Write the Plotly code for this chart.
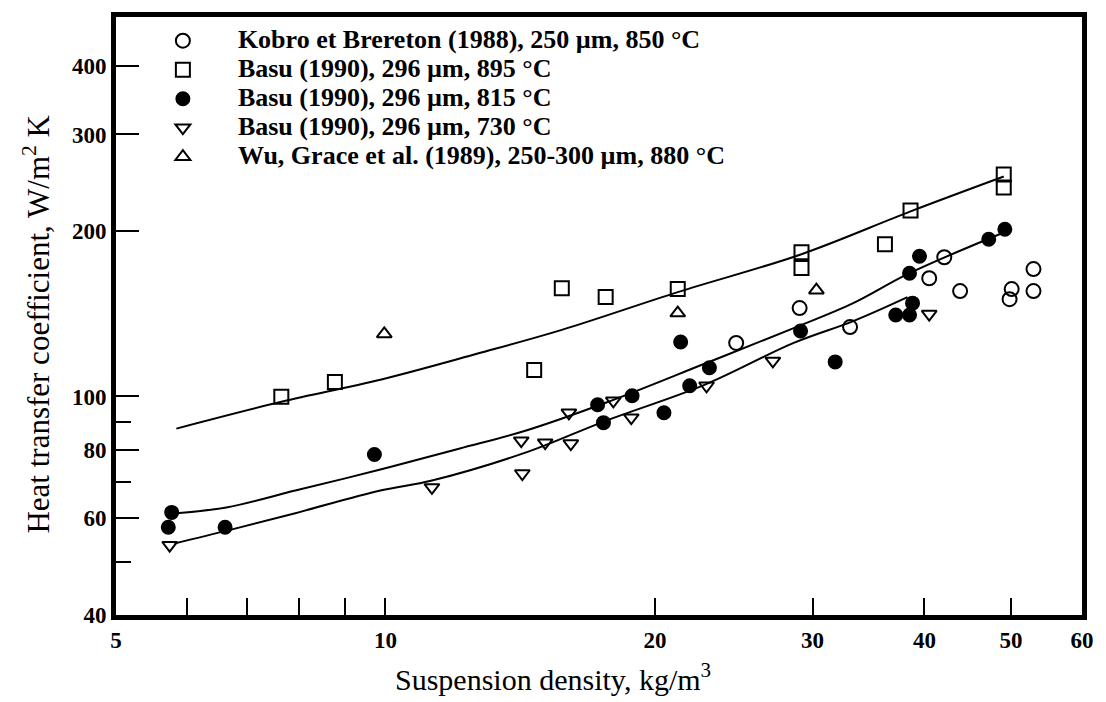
import math
import plotly.graph_objects as go

# ---- data ----
kobro_x = [24.65, 29.02, 33.04, 42.1, 40.5, 43.85, 52.96, 50.07, 52.96, 49.8]
kobro_y = [125.2, 144.9, 133.8, 179.3, 164.2, 155.6, 170.6, 156.9, 155.6, 150.4]

b895_x = [7.65, 8.78, 14.66, 15.74, 17.62, 21.21, 29.16, 29.16, 36.14, 38.6, 49.06, 49.06]
b895_y = [99.9, 106.3, 111.8, 157.5, 151.7, 156.9, 183.1, 171.3, 189.3, 218.2, 253.7, 240.3]

b815_x = [5.77, 5.72, 6.62, 9.72, 17.26, 17.52, 18.86, 20.47, 21.37, 21.87, 23.01,
          29.09, 31.8, 37.16, 38.5, 38.8, 38.5, 39.5, 47.2, 49.2]
b815_y = [61.5, 57.8, 57.8, 78.4, 96.6, 89.6, 100.3, 93.4, 125.7, 104.6, 112.8,
          131.6, 115.6, 140.7, 140.7, 147.9, 167.7, 180.1, 193.3, 201.6]

b730_x = [5.74, 11.27, 14.18, 14.22, 15.08, 16.11, 16.03, 17.97, 18.82, 22.84, 27.09, 40.5]
b730_y = [53.6, 68.3, 83.1, 72.4, 82.4, 82.1, 93.4, 98.2, 91.5, 104.6, 116.1, 141.3]

wu_x = [9.97, 21.21, 30.3]
wu_y = [130.0, 141.9, 156.2]

# fitted curves
fit895_x = [5.84, 7.65, 9.87, 12.65, 15.74, 21.21, 29.16, 38.6, 49.06]
fit895_y = [87.4, 97.8, 107.3, 119.6, 132.2, 154.9, 181.6, 217.3, 251.5]

fit815_x = [5.84, 6.64, 7.93, 9.87, 12.11, 14.36, 17.62, 22.72, 28.58, 33.31, 38.5, 50.07]
fit815_y = [61.3, 62.8, 67.4, 73.6, 80.4, 86.7, 97.4, 114.7, 133.2, 147.9, 167.7, 201.6]

fit730_x = [5.81, 6.69, 7.93, 9.87, 11.27, 14.36, 17.62, 22.72, 28.58, 33.31, 38.3]
fit730_y = [54.0, 57.1, 61.3, 67.4, 70.3, 79.1, 90.3, 105.0, 125.2, 137.2, 151.7]

legend_names = [
    "Kobro et Brereton (1988), 250 µm, 850 °C",
    "Basu (1990), 296 µm, 895 °C",
    "Basu (1990), 296 µm, 815 °C",
    "Basu (1990), 296 µm, 730 °C",
    "Wu, Grace et al. (1989), 250-300 µm, 880 °C",
]

x_tickvals = [5, 6, 7, 8, 9, 10, 20, 30, 40, 50, 60]
x_ticktext = ["5", "", "", "", "", "10", "20", "30", "40", "50", "60"]
y_tickvals = [40, 60, 80, 100, 200, 300, 400]
y_ticktext = ["40", "60", "80", "100", "200", "300", "400"]
y_minor = [50, 70, 90]

FONT = "Liberation Serif"

fig = go.Figure()

for fx, fy in [(fit895_x, fit895_y), (fit815_x, fit815_y), (fit730_x, fit730_y)]:
    fig.add_trace(go.Scatter(x=fx, y=fy, mode="lines", showlegend=False,
                             line=dict(color="black", width=2, shape="spline", smoothing=1.0),
                             hoverinfo="skip"))

series = [
    (kobro_x, kobro_y, "circle-open", 14),
    (b895_x, b895_y, "square-open", 14),
    (b815_x, b815_y, "circle", 13),
    (b730_x, b730_y, "triangle-down-open", 13),
    (wu_x, wu_y, "triangle-up-open", 13),
]
for (sx, sy, sym, sz), name in zip(series, legend_names):
    fig.add_trace(go.Scatter(x=sx, y=sy, mode="markers",
                             name='<span style="font-size:26px">' + name + "</span>",
                             marker=dict(symbol=sym, size=sz, color="black",
                                         line=dict(color="black", width=2))))

fig.update_layout(
    width=1106, height=702,
    margin=dict(l=116, r=15, t=13, b=87),
    paper_bgcolor="white", plot_bgcolor="white",
    font=dict(family=FONT, color="black", size=20, weight="bold"),
    legend=dict(x=0.0123, y=0.993, xanchor="left", yanchor="top", itemwidth=100,
                bgcolor="rgba(0,0,0,0)", font=dict(family=FONT, size=20, weight="bold"),
                tracegroupgap=0),
    xaxis=dict(type="log", range=[math.log10(5), math.log10(60)],
               showline=True, linewidth=5, linecolor="black", mirror=True,
               showgrid=False, zeroline=False,
               ticks="inside", ticklen=17, tickwidth=2, tickcolor="black",
               tickmode="array", tickvals=x_tickvals, ticktext=x_ticktext,
               tickfont=dict(family=FONT, size=23, weight="bold")),
    yaxis=dict(type="log", range=[math.log10(40), math.log10(491)],
               showline=True, linewidth=5, linecolor="black", mirror=True,
               showgrid=False, zeroline=False,
               ticks="inside", ticklen=23, tickwidth=2, tickcolor="black",
               tickmode="array", tickvals=y_tickvals, ticktext=y_ticktext,
               tickfont=dict(family=FONT, size=23, weight="bold"),
               minor=dict(tickmode="array", tickvals=y_minor, ticks="inside",
                          ticklen=15, tickwidth=2, tickcolor="black", showgrid=False)),
    annotations=[
        dict(text="Heat transfer coefficient, W/m<sup>2</sup> K", xref="paper", yref="paper",
             x=-0.082, y=0.487, xanchor="center", yanchor="middle",
             textangle=-90, showarrow=False,
             font=dict(family=FONT, size=31, weight="normal")),
        dict(text="Suspension density, kg/m<sup>3</sup>", xref="paper", yref="paper",
             x=0.452, y=-0.104, xanchor="center", yanchor="middle", showarrow=False,
             font=dict(family=FONT, size=30, weight="normal")),
    ],
)

fig.write_html("out.html")
